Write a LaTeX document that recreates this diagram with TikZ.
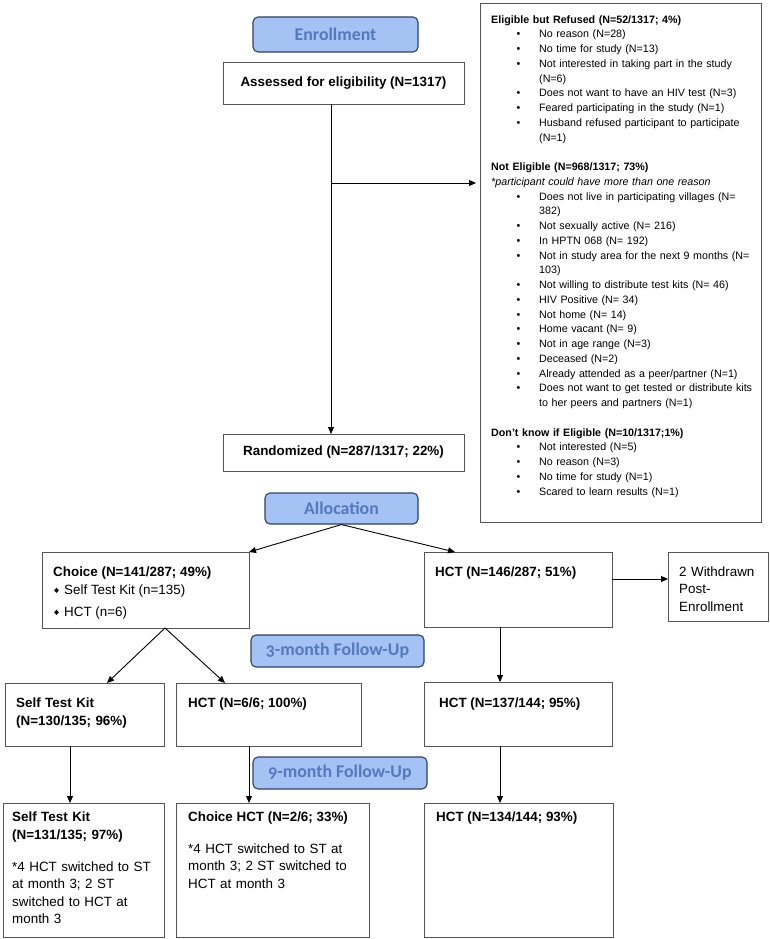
\documentclass[tikz,border=0pt]{standalone}
\usepackage{fontspec}
\setmainfont{Liberation Sans}
\newfontfamily\stagefamily[Numbers=OldStyle]{Carlito}
\usetikzlibrary{arrows.meta,shapes.geometric,calc}
\setlength{\parindent}{0pt}
\setlength{\parskip}{0pt}
\definecolor{boxc}{RGB}{85,85,85}
\definecolor{stagefill}{RGB}{164,194,244}
\definecolor{stagebd}{RGB}{50,64,95}
\definecolor{stagetext}{RGB}{86,120,188}
\newcommand\mainsz{\fontsize{13.4}{17.5}\selectfont}
\newcommand\headsz{\fontsize{13.4}{18.8}\selectfont}
\newcommand\rsz{\fontsize{10.7}{14.75}\selectfont}
\newcommand\rbul[1]{\par\hspace*{25.5pt}\makebox[22.5pt][l]{\textbullet}#1}
\newcommand\rcont[1]{\par\hspace*{48pt}#1}
\newcommand\rblank{\par\mbox{}}
\begin{document}
\begin{tikzpicture}[x=1pt,y=-1pt,
  box/.style={draw=boxc, line width=0.9pt, anchor=north west, inner sep=0pt, outer sep=0pt, font=\bfseries\mainsz},
  stage/.style={draw=stagebd, fill=stagefill, rounded corners=5pt, line width=1.1pt,
    text=stagetext, font=\stagefamily\bfseries\fontsize{17.8}{20}\selectfont, inner sep=0pt},
  lbl/.style={anchor=north west, inner sep=0pt, font=\mainsz, align=left},
  hd/.style={anchor=north west, inner sep=0pt, font=\bfseries\headsz, align=left},
  arr/.style={line width=0.9pt, draw=black, -{Triangle[length=7pt,width=6pt]}},
  dmd/.style={diamond, fill=black, inner sep=0pt, minimum width=4.8pt, minimum height=5.4pt}
]
\fill[white] (0,0) rectangle (770,939);
\useasboundingbox (0,0) rectangle (770,939);

% stage labels
\node[stage, minimum width=165pt, minimum height=35pt] (enr) at (335.5,34.5) {Enrollment};
\node[stage, minimum width=153pt, minimum height=31pt] (alloc) at (341.5,508.5) {Allocation};
\node[stage, minimum width=173pt, minimum height=32pt] (m3) at (337.5,651) {3-month Follow-Up};
\node[stage, minimum width=174pt, minimum height=32pt] (m9) at (340,773) {9-month Follow-Up};

% boxes
\node[box, minimum width=241pt, minimum height=42pt] (assess) at (223,62) {\raisebox{2pt}{Assessed for eligibility (N=1317)}};
\node[box, minimum width=241pt, minimum height=37pt] (rand) at (223,434) {Randomized (N=287/1317; 22\%)};
\node[box, minimum width=281pt, minimum height=519pt] (right) at (480,3) {};
\node[box, minimum width=207pt, minimum height=76pt] (choice) at (42,552) {};
\node[box, minimum width=188pt, minimum height=75pt] (hct146) at (424,552) {};
\node[box, minimum width=100pt, minimum height=69pt] (wd) at (668,552) {};
\node[box, minimum width=159pt, minimum height=63pt] (stk130) at (5,683) {};
\node[box, minimum width=185pt, minimum height=63pt] (hct6) at (176,683) {};
\node[box, minimum width=188pt, minimum height=64pt] (hct137) at (424,682) {};
\node[box, minimum width=161pt, minimum height=134pt] (stk131) at (3,803) {};
\node[box, minimum width=193pt, minimum height=134pt] (chct) at (176,803) {};
\node[box, minimum width=189pt, minimum height=134pt] (hct134) at (424,803) {};

% right box text
\node[anchor=north west, inner sep=0pt, text width=268pt, align=left, font=\rsz] (rtext) at (491,15.1) {%
{\bfseries Eligible but Refused (N=52/1317; 4\%)}
\rbul{No reason (N=28)}
\rbul{No time for study (N=13)}
\rbul{Not interested in taking part in the study}
\rcont{(N=6)}
\rbul{Does not want to have an HIV test (N=3)}
\rbul{Feared participating in the study (N=1)}
\rbul{Husband refused participant to participate}
\rcont{(N=1)}
\rblank
\par{\bfseries Not Eligible (N=968/1317; 73\%)}
\par{\itshape *participant could have more than one reason}
\rbul{Does not live in participating villages (N=}
\rcont{382)}
\rbul{Not sexually active (N= 216)}
\rbul{In HPTN 068 (N= 192)}
\rbul{Not in study area for the next 9 months (N=}
\rcont{103)}
\rbul{Not willing to distribute test kits (N= 46)}
\rbul{HIV Positive (N= 34)}
\rbul{Not home (N= 14)}
\rbul{Home vacant (N= 9)}
\rbul{Not in age range (N=3)}
\rbul{Deceased (N=2)}
\rbul{Already attended as a peer/partner (N=1)}
\rbul{Does not want to get tested or distribute kits}
\rcont{to her peers and partners (N=1)}
\rblank
\par{\bfseries Don't know if Eligible (N=10/1317;1\%)}
\rbul{Not interested (N=5)}
\rbul{No reason (N=3)}
\rbul{No time for study (N=1)}
\rbul{Scared to learn results (N=1)}\par};

% choice box text
\node[hd] (choiceh) at (53,566.1) {Choice (N=141/287; 49\%)};
\node[dmd] (dm1) at (56.5,590.3) {};
\node[lbl] (choice1) at (64,584.4) {Self Test Kit (n=135)};
\node[dmd] (dm2) at (56.5,612.3) {};
\node[lbl] (choice2) at (64,606.1) {HCT (n=6)};

\node[hd] (hct146t) at (435,566.1) {HCT (N=146/287; 51\%)};
\node[lbl, text width=90pt] (wdt) at (679,566.1) {2 Withdrawn\\Post-\\Enrollment};

\node[hd, text width=150pt] (stk130t) at (16,697.1) {Self Test Kit\\(N=130/135; 96\%)};
\node[hd] (hct6t) at (188,697.1) {HCT (N=6/6; 100\%)};
\node[hd] (hct137t) at (439,697.1) {HCT (N=137/144; 95\%)};

\node[hd, text width=150pt] (stk131t) at (12,811.1) {Self Test Kit\\(N=131/135; 97\%)};
\node[lbl, text width=150pt] (stk131n) at (12,861.1) {*4 HCT switched to ST\\at month 3; 2 ST\\switched to HCT at\\month 3};
\node[hd] (chctt) at (188,811.1) {Choice HCT (N=2/6; 33\%)};
\node[lbl, text width=180pt] (chctn) at (188,843.1) {*4 HCT switched to ST at\\month 3; 2 ST switched to\\HCT at month 3};
\node[hd] (hct134t) at (436,811.1) {HCT (N=134/144; 93\%)};

% helper coordinates
\coordinate (xA) at (331,0);
\coordinate (br) at (331,183);
\coordinate (xB) at (500,0);
\coordinate (yW) at (0,579);
\coordinate (xC) at (70,0);
\coordinate (xD) at (249,0);

% connectors
\draw[arr] (assess.south -| xA) -- (rand.north -| xA);
\draw[arr, shorten >=4pt] (br) -- (right.west |- br);
\draw[arr] (alloc.south) -- (choice.north east);
\draw[arr] (alloc.south) -- ($(hct146.north west)+(31,0)$);
\draw[arr] ($(choice.south west)+(123,0)$) -- ($(stk130.north west)+(102,0)$);
\draw[arr] ($(choice.south west)+(123,0)$) -- ($(hct6.north west)+(49,0)$);
\draw[arr] (hct146.east |- yW) -- (wd.west |- yW);
\draw[arr] (hct146.south -| xB) -- (hct137.north -| xB);
\draw[arr] (stk130.south -| xC) -- (stk131.north -| xC);
\draw[arr] (hct6.south -| xD) -- (chct.north -| xD);
\draw[arr] (hct137.south -| xB) -- (hct134.north -| xB);
\end{tikzpicture}
\end{document}
